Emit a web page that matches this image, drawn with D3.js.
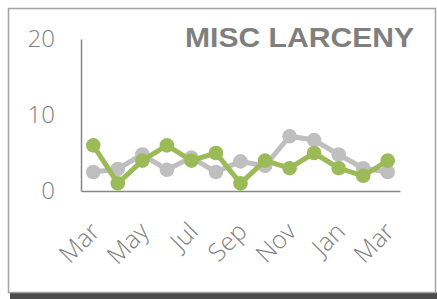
<!DOCTYPE html>
<html>
<head>
<meta charset="utf-8">
<script src="https://cdn.jsdelivr.net/npm/d3@7"></script>
<style>
  body { margin: 0; background: #fff; }
  text { font-family: "Open Sans", "Liberation Sans", sans-serif; }
</style>
</head>
<body>
<svg id="chart" width="437" height="299"></svg>
<script>
const months = ["Mar", "Apr", "May", "Jun", "Jul", "Aug", "Sep", "Oct", "Nov", "Dec", "Jan", "Feb", "Mar"];
const current = [6, 1, 4, 6, 4, 5, 1, 4, 3, 5, 3, 2, 4];
const prior = [2.5, 2.9, 4.8, 2.8, 4.4, 2.5, 3.9, 3.3, 7.2, 6.7, 4.8, 3, 2.5];
const yTicks = [0, 10, 20];
const title = "MISC LARCENY";

const svg = d3.select("#chart");
const margin = { top: 39, right: 37, bottom: 108, left: 81 };
const width = 437 - margin.left - margin.right;
const height = 299 - margin.top - margin.bottom;

// card frame and bottom shadow
svg.append("rect")
  .attr("x", 10).attr("y", 292.5).attr("width", 427).attr("height", 7)
  .attr("fill", "#4d4d4d");
svg.append("rect")
  .attr("x", 8.5).attr("y", 8.5).attr("width", 427).attr("height", 284)
  .attr("fill", "#fff").attr("stroke", "#a3a3a3").attr("stroke-width", 1.5);

const g = svg.append("g").attr("transform", `translate(${margin.left},${margin.top})`);

const x = d3.scaleBand().domain(d3.range(months.length)).range([0, width]);
const y = d3.scaleLinear().domain([0, 20]).range([height, 0]);
const cx = i => x(i) + x.bandwidth() / 2;

// y axis
const yAxis = g.append("g")
  .call(d3.axisLeft(y).tickValues(yTicks).tickSize(0).tickPadding(26));
yAxis.select(".domain").attr("stroke", "#878787").attr("stroke-width", 1.5);
yAxis.selectAll("text")
  .attr("fill", "#7f7f7f").style("font-size", "24px").style("font-weight", 300);

// x axis, every other month, rotated
const xAxis = g.append("g")
  .attr("transform", `translate(0,${height})`)
  .call(d3.axisBottom(x).tickSize(0).tickFormat(i => (i % 2 === 0 ? months[i] : "")));
xAxis.select(".domain").attr("stroke", "#878787").attr("stroke-width", 1.5);
xAxis.selectAll("text")
  .attr("fill", "#7f7f7f").style("font-size", "25px").style("font-weight", 300)
  .attr("text-anchor", "end")
  .attr("dy", 0)
  .attr("transform", "translate(8,42) rotate(-45)")
  .attr("y", 0).attr("x", 0);

const line = d3.line().x((d, i) => cx(i)).y(d => y(d));

function series(data, color) {
  g.append("path")
    .datum(data)
    .attr("fill", "none")
    .attr("stroke", color)
    .attr("stroke-width", 5)
    .attr("stroke-linejoin", "round")
    .attr("d", line);
  g.selectAll(null)
    .data(data)
    .enter()
    .append("circle")
    .attr("cx", (d, i) => cx(i))
    .attr("cy", d => y(d))
    .attr("r", 7.3)
    .attr("fill", color);
}

series(prior, "#bfbfbf");
series(current, "#9bbb59");

svg.append("text")
  .attr("x", 414).attr("y", 47)
  .attr("text-anchor", "end")
  .attr("fill", "#7f7f7f")
  .style("font-family", "'Liberation Sans', sans-serif")
  .style("font-size", "28px").style("font-weight", "bold")
  .attr("textLength", 229).attr("lengthAdjust", "spacingAndGlyphs")
  .text(title);
</script>
</body>
</html>
